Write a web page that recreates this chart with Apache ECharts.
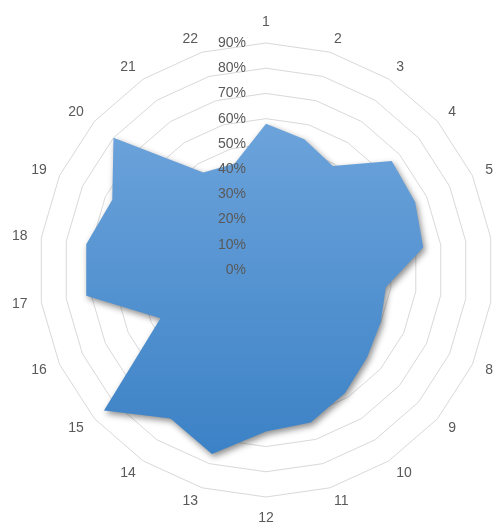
<!DOCTYPE html>
<html>
<head>
<meta charset="utf-8">
<script src="https://cdn.jsdelivr.net/npm/echarts@6/dist/echarts.min.js"></script>
<style>
html,body{margin:0;padding:0;background:#fff;}
#chart{width:504px;height:527px;}
</style>
</head>
<body>
<div id="chart"></div>
<script>
var categories = ['1','2','3','4','5','6','7','8','9','10','11','12','13','14','15','16','17','18','19','20','21','22'];
var values = [58,54,49,66,65,63,48,50,53,58,63,64,76,70,85,46,72,72,67,80,46,44];
var axisMax = 90;
var axisSplits = 9;

// ECharts radar runs counter-clockwise; reorder so the categories go clockwise from the top
function clockwiseOrder(arr) {
  return [arr[0]].concat(arr.slice(1).reverse());
}
var orderedCats = clockwiseOrder(categories);
var orderedVals = clockwiseOrder(values);

var fontFam = 'Liberation Sans, Arial, sans-serif';
var chart = echarts.init(document.getElementById('chart'));

var gridIndicators = orderedCats.map(function (c) {
  return { name: c, min: 0, max: axisMax };
});
var labelIndicators = orderedCats.map(function (c, i) {
  var ind = { name: c, min: 0, max: axisMax };
  if (i === 0) ind.axisLabel = { show: true };
  return ind;
});

chart.setOption({
  backgroundColor: '#ffffff',
  animation: false,
  radar: [{
    z: 1,
    center: [266, 270],
    radius: 227,
    startAngle: 90,
    shape: 'polygon',
    splitNumber: axisSplits,
    indicator: gridIndicators,
    axisName: { color: '#595959', fontSize: 14, fontFamily: fontFam },
    nameGap: 14,
    axisLine: { show: false },
    axisTick: { show: false },
    axisLabel: { show: false },
    splitLine: { lineStyle: { color: '#d9d9d9', width: 1 } },
    splitArea: { show: false }
  }, {
    z: 10,
    center: [266, 270],
    radius: 227,
    startAngle: 90,
    shape: 'polygon',
    splitNumber: axisSplits,
    indicator: labelIndicators,
    axisName: { show: false },
    axisLine: { show: false },
    axisTick: { show: false },
    axisLabel: {
      show: false,
      color: '#595959',
      fontSize: 14,
      fontFamily: fontFam,
      margin: 20,
      formatter: function (v) { return v + '%'; }
    },
    splitLine: { show: false },
    splitArea: { show: false }
  }],
  series: [{
    type: 'radar',
    radarIndex: 0,
    z: 2,
    symbol: 'none',
    data: [{
      value: orderedVals,
      lineStyle: { width: 0, opacity: 0 },
      areaStyle: {
        opacity: 1,
        color: new echarts.graphic.LinearGradient(0, 0, 0, 1, [
          { offset: 0, color: '#6ca3db' },
          { offset: 1, color: '#3c82c6' }
        ]),
        shadowBlur: 6,
        shadowColor: 'rgba(0,0,0,0.45)',
        shadowOffsetX: 2,
        shadowOffsetY: 3
      }
    }]
  }]
});
</script>
</body>
</html>
